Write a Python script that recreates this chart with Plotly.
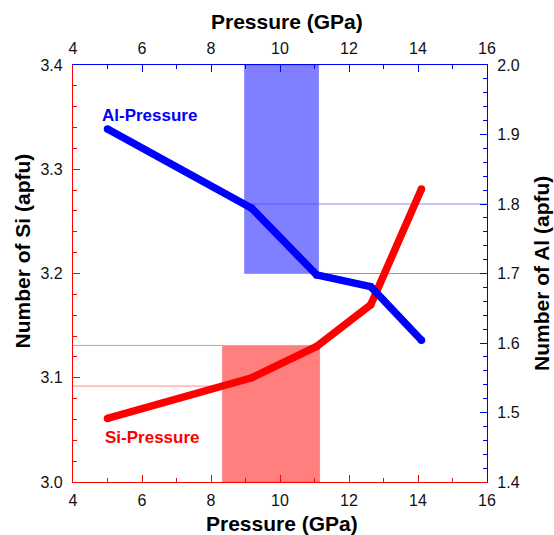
import plotly.graph_objects as go

# ---- data ----
pressure = [5.0, 9.18, 11.06, 12.63, 14.1]
si_values = [3.061, 3.100, 3.130, 3.170, 3.281]
al_values = [1.908, 1.794, 1.698, 1.681, 1.604]

si_band_pressure = [8.33, 11.15]
si_band_values = [3.092, 3.131]
al_band_pressure = [8.97, 11.12]
al_band_values = [1.70, 1.80]

x_ticks = [4, 6, 8, 10, 12, 14, 16]
si_ticks = [3.0, 3.1, 3.2, 3.3, 3.4]
al_ticks = [1.4, 1.5, 1.6, 1.7, 1.8, 1.9, 2.0]

RED = "#ff0000"
BLUE = "#0000ff"
FONT = "Arial, Liberation Sans, sans-serif"

fig = go.Figure()

fig.add_trace(go.Scatter(
    x=pressure, y=si_values, mode="lines+markers",
    line=dict(color=RED, width=7.5), marker=dict(color=RED, size=7.5),
    xaxis="x", yaxis="y", showlegend=False, hoverinfo="skip"))
fig.add_trace(go.Scatter(
    x=pressure, y=al_values, mode="lines+markers",
    line=dict(color=BLUE, width=7.5), marker=dict(color=BLUE, size=7.5),
    xaxis="x2", yaxis="y2", showlegend=False, hoverinfo="skip"))

THIN_RED = "#ff8a8a"
THIN_BLUE = "#8a8aff"

shapes = []
# Si band (red)
shapes.append(dict(type="rect", xref="x", yref="y",
                   x0=si_band_pressure[0], x1=si_band_pressure[1],
                   y0=3.0, y1=si_band_values[1],
                   fillcolor="rgba(255,0,0,0.5)", line=dict(color="rgba(255,0,0,0.2)", width=1),
                   layer="below"))
for v in si_band_values:
    shapes.append(dict(type="line", xref="x", yref="y",
                       x0=4, x1=si_band_pressure[0], y0=v, y1=v,
                       line=dict(color=THIN_RED, width=1), layer="below"))
# Al band (blue)
shapes.append(dict(type="rect", xref="x2", yref="y2",
                   x0=al_band_pressure[0], x1=al_band_pressure[1],
                   y0=al_band_values[0], y1=2.0,
                   fillcolor="rgba(0,0,255,0.5)", line=dict(color="rgba(0,0,255,0.2)", width=1),
                   layer="below"))
shapes.append(dict(type="line", xref="x2", yref="y2",
                   x0=al_band_pressure[1], x1=16, y0=al_band_values[1], y1=al_band_values[1],
                   line=dict(color=THIN_BLUE, width=1), layer="below"))
shapes.append(dict(type="line", xref="x2", yref="y2",
                   x0=al_band_pressure[0], x1=al_band_pressure[1], y0=al_band_values[1], y1=al_band_values[1],
                   line=dict(color="rgba(0,0,255,0.3)", width=1), layer="below"))
shapes.append(dict(type="line", xref="x2", yref="y2",
                   x0=al_band_pressure[1], x1=16, y0=al_band_values[0], y1=al_band_values[0],
                   line=dict(color=THIN_BLUE, width=1), layer="below"))

tickfont = dict(family=FONT, size=16, color="#111111")

common_x = dict(range=[4, 16], tickvals=x_ticks, ticks="inside", ticklen=7, tickwidth=1.2,
                showline=True, linewidth=1.2, showgrid=False, zeroline=False,
                tickfont=tickfont, ticklabelstandoff=4,
                minor=dict(dtick=1, tick0=4, ticks="inside", ticklen=4, showgrid=False))

fig.update_layout(
    width=554, height=535,
    margin=dict(l=73, r=67, t=65, b=53),
    plot_bgcolor="white", paper_bgcolor="white",
    shapes=shapes,
    xaxis=dict(**common_x, linecolor=RED, tickcolor=RED, side="bottom"),
    xaxis2=dict(**common_x, linecolor=BLUE, tickcolor=BLUE, side="top", overlaying="x", anchor="y2"),
    yaxis=dict(range=[3.0, 3.4], tickvals=si_ticks, tickformat=".1f", ticks="inside", ticklen=7,
               tickwidth=1.2, tickcolor=RED, showline=True, linecolor=RED, linewidth=1.2,
               showgrid=False, zeroline=False, tickfont=tickfont, ticklabelstandoff=6,
               minor=dict(dtick=0.02, tick0=3.0, ticks="inside", ticklen=4, tickcolor=RED, showgrid=False)),
    yaxis2=dict(range=[1.4, 2.0], tickvals=al_ticks, tickformat=".1f", ticks="inside", ticklen=7,
                tickwidth=1.2, tickcolor=BLUE, showline=True, linecolor=BLUE, linewidth=1.2,
                showgrid=False, zeroline=False, tickfont=tickfont, ticklabelstandoff=6,
                side="right", overlaying="y", anchor="x2",
                minor=dict(dtick=0.02, tick0=1.4, ticks="inside", ticklen=4, tickcolor=BLUE, showgrid=False)),
)

title_font = dict(family=FONT, size=21, color="black", weight="bold")
label_font = dict(family=FONT, size=17, weight="bold")

annotations = [
    dict(text="Pressure (GPa)", xref="paper", yref="paper", x=0.516, y=1.1055,
         showarrow=False, font=title_font, xanchor="center", yanchor="middle"),
    dict(text="Pressure (GPa)", xref="paper", yref="paper", x=0.505, y=-0.1007,
         showarrow=False, font=title_font, xanchor="center", yanchor="middle"),
    dict(text="Number of Si (apfu)", xref="paper", yref="paper", x=-0.122, y=0.554,
         showarrow=False, font=title_font, textangle=-90, xanchor="center", yanchor="middle"),
    dict(text="Number of Al (apfu)", xref="paper", yref="paper", x=1.130, y=0.501,
         showarrow=False, font=title_font, textangle=-90, xanchor="center", yanchor="middle"),
    dict(text="Al-Pressure", xref="x", yref="y", x=6.22, y=3.352, showarrow=False,
         font=dict(**label_font, color=BLUE), xanchor="center", yanchor="middle"),
    dict(text="Si-Pressure", xref="x", yref="y", x=6.30, y=3.043, showarrow=False,
         font=dict(**label_font, color=RED), xanchor="center", yanchor="middle"),
]
fig.update_layout(annotations=annotations)

fig.write_html("out.html", config={"displayModeBar": False},
               post_script="document.body.style.margin='0px';")
